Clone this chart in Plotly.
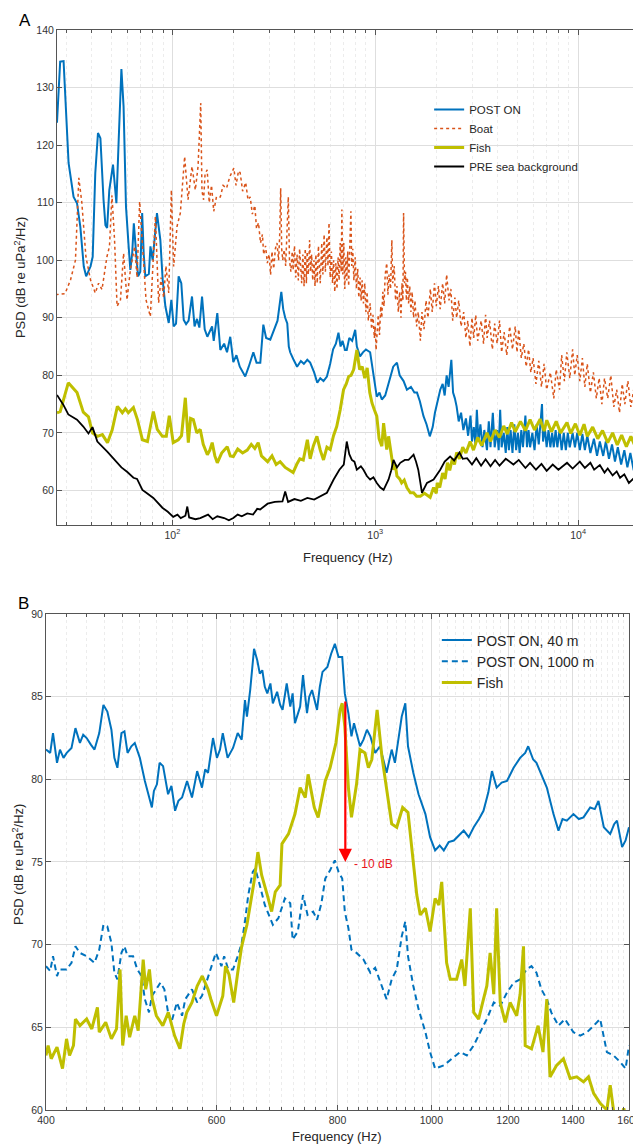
import numpy as np
import plotly.graph_objects as go

# ---------------- panel A (log frequency axis) ----------------
post_on_f = [27, 28, 29.1, 29.6, 30.8, 32.6, 33.9, 35.2, 36.6, 37.6, 39.5, 40.5, 41.7, 43.0, 44.2, 45.8, 46.8, 47.7,
             48.9, 51.0, 51.9, 53.0, 54.4, 56.1, 57.5, 59.1, 60.9, 62.1, 63.4, 64.6, 66.2, 67.8, 69.5, 71.0, 72.3,
             73.6, 76.6, 78.0, 80.0, 84.0, 87.3, 89.6, 92.4, 96.0, 98.9, 101.5, 104.3, 107.4, 110.7, 113.8, 116.9,
             120.3, 125.0, 128.7, 132.3, 135.9, 140.1, 144.4, 148.8, 157, 160, 166.6, 172.4, 180, 186, 193, 199.8,
             207, 215, 228.7, 238, 250.8, 260, 271.4, 280.9, 290, 304, 318, 330, 344.5, 352, 360, 368.6, 375, 381,
             395, 412, 430, 445, 462.6, 478, 500, 518.2, 536, 556, 578, 600, 620, 640, 659, 675, 690, 710, 724, 745,
             770, 797, 812, 842, 870, 900, 944, 975, 1000, 1018, 1050, 1078, 1120, 1170, 1227, 1280, 1320, 1380,
             1433, 1500, 1560, 1607, 1660, 1730, 1790, 1858, 1920, 1970, 2021, 2092, 2150, 2200, 2250, 2300, 2373,
             2420, 2470, 2519, 2580, 2650, 2720, 2800, 2870, 2950, 3000, 3062, 3120, 3170, 3230, 3300, 3380, 3450,
             3556, 3630, 3700, 3800, 3880, 3990, 4060, 4130, 4200, 4300, 4400, 4478, 4560, 4650, 4750, 4850, 4950,
             5050, 5150, 5250, 5350, 5500, 5600, 5700, 5800, 5950, 6100, 6250, 6400, 6550, 6640, 6720, 6850, 7000,
             7150, 7300, 7450, 7590, 7750, 7900, 8100, 8300, 8500, 8700, 8900, 9100, 9400, 9650, 9900, 10200, 10500,
             10800, 11100, 11500, 11970, 12400, 12800, 13300, 13700, 14200, 14700, 15200, 15700, 16300, 16900,
             17500, 18100, 18800, 19400, 20200]
post_on_db = [123.9, 134.5, 134.6, 129.6, 116.9, 111.0, 109.9, 105.8, 98.9, 97.2, 98.9, 100.6, 115.1, 122.1, 121.2,
              110.5, 106.1, 105.6, 112.2, 116.6, 114.0, 109.9, 120.9, 133.2, 126.7, 109.3, 102.4, 98.3, 101.2, 106.4,
              101.5, 97.2, 98.0, 108.2, 101.0, 97.2, 97.6, 102.4, 100.0, 108.2, 103.5, 96.6, 92.0, 89.1, 93.1, 88.5,
              89.0, 97.2, 96.0, 89.6, 88.9, 89.5, 93.7, 88.5, 89.8, 88.3, 93.7, 88.0, 86.7, 88.5, 86.0, 90.8, 84.4,
              85.5, 84.0, 86.7, 82.3, 83.5, 81.5, 79.8, 81.5, 84.0, 82.2, 82.2, 88.8, 86.5, 86.2, 88.0, 89.5, 94.5,
              91.5, 90.0, 89.0, 85.0, 84.0, 82.8, 81.5, 82.5, 82.0, 82.7, 82.2, 80.5, 78.7, 79.5, 79.0, 79.8, 82.0,
              84.5, 85.5, 87.4, 85.0, 86.0, 84.4, 84.4, 86.5, 86.0, 87.9, 85.0, 83.3, 84.0, 84.5, 84.0, 80.5, 78.0,
              76.3, 77.0, 75.8, 76.5, 79.0, 81.5, 82.2, 80.0, 79.0, 77.5, 78.0, 77.0, 77.0, 75.5, 72.9, 71.5, 69.4,
              71.0, 73.5, 75.2, 77.5, 78.5, 76.5, 80.0, 78.0, 82.7, 77.0, 76.0, 74.6, 72.0, 73.5, 70.5, 72.5, 69.5,
              73.0, 68.5, 71.0, 68.0, 74.0, 68.5, 71.5, 67.5, 70.5, 67.0, 72.0, 67.5, 73.5, 67.5, 70.5, 67.0, 74.0,
              67.5, 70.0, 66.5, 71.0, 67.0, 70.5, 66.5, 71.5, 67.0, 70.0, 66.5, 70.5, 67.5, 73.0, 67.5, 70.5, 67.5,
              70.0, 67.0, 71.5, 68.0, 72.5, 75.0, 68.5, 71.0, 67.5, 70.5, 67.5, 70.0, 67.5, 70.5, 67.5, 70.5, 67.0,
              70.0, 67.0, 70.0, 67.5, 70.0, 67.5, 70.0, 67.0, 69.8, 67.0, 69.5, 66.5, 69.0, 66.0, 68.5, 66.0, 68.5,
              65.5, 68.0, 65.0, 67.5, 64.5, 67.0, 64.0, 66.5, 63.5, 65.5, 63.8]

boat_f = [26.6, 29.6, 31.5, 33.3, 34.6, 35.8, 37.5, 39.5, 41.7, 43.3, 45, 47.6, 49, 50.4, 51.9, 53.4, 55.5, 57.5, 59.8,
          62.1, 65.2, 67, 69, 71.4, 74.2, 77.9, 80, 82.5, 85.6, 88, 90.6, 93, 96, 98.9, 101.5, 105.5, 109.5, 115,
          119.5, 125, 129.8, 133.9, 138, 140, 142.6, 145, 148.5, 152, 156, 160, 165, 172.4, 178, 185, 192, 201,
          206, 212, 216, 222, 230, 236, 242, 248, 255, 260, 266, 272, 278, 282, 288, 294, 300, 305, 310, 316, 322,
          328, 334, 338, 342, 346, 350, 356, 362, 367, 373, 378, 384, 390, 394, 400, 406, 412, 418, 424, 428, 434,
          440, 446, 452, 458, 462, 468, 475, 480, 486, 492, 499, 505, 510, 518, 525, 536, 545, 552, 560, 568, 578,
          585, 592, 600, 608, 616, 624, 632, 640, 648, 656, 664, 672, 680, 685, 692, 700, 708, 716, 724, 732, 740,
          750, 759, 766, 775, 785, 797, 808, 820, 830, 842, 852, 862, 875, 888, 900, 912, 925, 944, 960, 975, 990,
          1000, 1010, 1020, 1035, 1050, 1065, 1078, 1090, 1105, 1120, 1140, 1155, 1170, 1190, 1208, 1220, 1240,
          1260, 1280, 1300, 1320, 1340, 1355, 1370, 1380, 1395, 1410, 1425, 1440, 1460, 1480, 1500, 1520, 1546,
          1570, 1600, 1630, 1670, 1700, 1740, 1780, 1820, 1870, 1910, 1960, 2000, 2050, 2090, 2150, 2200, 2250,
          2310, 2360, 2410, 2470, 2520, 2580, 2650, 2730, 2800, 2860, 2930, 3000, 3060, 3130, 3200, 3330, 3420,
          3500, 3560, 3660, 3780, 3880, 3990, 4100, 4200, 4320, 4450, 4600, 4750, 4900, 5000, 5100, 5250, 5400,
          5550, 5700, 5850, 6000, 6200, 6400, 6600, 6800, 7000, 7300, 7590, 7800, 8100, 8300, 8560, 8800, 9100,
          9400, 9630, 9900, 10200, 10500, 10800, 11100, 11500, 11900, 12300, 12700, 13100, 13500, 14000, 14500,
          15000, 15500, 16000, 16500, 17000, 17600, 18200, 18800, 19400, 20200]
boat_db = [94.0, 94.2, 96.6, 100.0, 114.3, 110.0, 100.6, 96.6, 94.3, 96.0, 94.9, 100.6, 102.4, 111.3, 103.5, 92.0,
           93.1, 101.2, 93.1, 98.3, 102.4, 97.0, 110.2, 102.4, 93.1, 90.2, 98.0, 107.6, 92.6, 97.0, 93.5, 99.0,
           94.3, 112.2, 98.9, 105.9, 108.2, 118.0, 110.5, 116.3, 112.2, 116.3, 127.3, 112.0, 110.5, 115.0, 115.7,
           110.0, 113.0, 108.5, 111.0, 111.0, 113.0, 112.5, 114.5, 116.0, 113.0, 115.5, 115.2, 112.0, 113.5, 110.5,
           111.0, 108.0, 109.5, 105.5, 106.5, 103.0, 104.5, 101.0, 102.5, 99.5, 101.0, 97.5, 101.5, 98.5, 102.0,
           103.0, 100.0, 104.0, 112.5, 102.0, 100.0, 101.8, 99.0, 104.0, 111.0, 100.0, 98.0, 101.5, 98.3, 102.5,
           97.0, 101.0, 96.5, 102.0, 99.5, 96.0, 101.0, 95.5, 102.0, 96.0, 101.5, 97.5, 103.5, 98.0, 101.0, 96.5,
           100.0, 95.5, 101.0, 96.0, 102.5, 96.0, 103.0, 97.5, 104.5, 98.0, 104.0, 99.0, 106.5, 97.0, 101.5, 96.0,
           100.0, 94.5, 99.5, 95.0, 100.5, 96.5, 103.0, 98.0, 108.8, 97.5, 103.0, 95.0, 100.5, 96.5, 101.5, 95.5,
           103.0, 108.5, 99.0, 102.0, 96.5, 100.5, 95.0, 98.5, 93.5, 97.0, 93.0, 96.5, 92.5, 96.0, 91.0, 94.5, 89.5,
           92.5, 88.0, 90.5, 86.5, 88.5, 84.4, 88.0, 90.5, 87.0, 92.0, 90.0, 94.5, 92.0, 97.5, 99.5, 94.0, 97.5,
           95.0, 103.5, 96.0, 99.0, 93.0, 95.5, 91.0, 94.5, 90.0, 96.0, 93.0, 108.2, 96.0, 98.0, 93.0, 97.0, 92.5,
           95.5, 91.0, 94.5, 90.0, 93.0, 88.5, 91.0, 86.0, 91.0, 88.0, 93.0, 90.0, 95.0, 91.0, 96.0, 92.0, 95.5,
           91.5, 96.0, 92.5, 97.5, 93.0, 95.0, 89.5, 93.5, 90.0, 93.0, 88.5, 91.0, 86.5, 89.5, 85.0, 90.0, 86.5,
           90.5, 86.0, 89.5, 85.5, 90.5, 86.5, 89.5, 84.5, 89.0, 85.5, 89.5, 84.0, 87.5, 83.5, 88.5, 84.5, 88.5,
           84.0, 88.0, 83.0, 85.5, 81.5, 84.5, 80.5, 83.0, 78.5, 82.5, 78.0, 82.0, 77.5, 80.5, 76.0, 81.0, 77.5,
           83.5, 79.0, 84.0, 79.5, 84.5, 80.0, 83.5, 79.0, 83.0, 78.0, 82.0, 77.0, 80.5, 76.0, 79.5, 75.0, 79.5,
           76.0, 80.0, 74.5, 77.5, 73.5, 78.5, 75.0, 79.0, 74.5, 77.5, 72.5, 75.0]

fish_f = [27, 28, 30.7, 33.9, 36.4, 38.6, 40.4, 42.7, 45.2, 47.9, 50.5, 53.6, 56.7, 58.7, 60.7, 64.3, 67.3, 71.2,
          75.4, 80.6, 84.3, 89.3, 93.4, 96.6, 101, 107, 111, 115.9, 119.9, 123, 126.9, 132, 137.3, 142, 148.8,
          153, 157.2, 162, 166.6, 175, 186.5, 193, 199.8, 210, 222, 234, 245, 255, 265, 275, 295, 310, 325, 340,
          360, 380, 394, 410, 425, 442, 463, 478, 495, 516, 536, 556, 578, 600, 623, 646, 672, 698, 720, 740, 760,
          783, 812, 838, 863, 888, 913, 940, 964, 990, 1018, 1045, 1078, 1100, 1120, 1140, 1164, 1200, 1231, 1255,
          1280, 1320, 1350, 1390, 1433, 1490, 1546, 1600, 1670, 1750, 1866, 1940, 2000, 2021, 2080, 2150, 2210,
          2270, 2330, 2400, 2460, 2519, 2600, 2700, 2800, 2937, 3050, 3200, 3350, 3556, 3700, 3900, 4100, 4300,
          4478, 4700, 4900, 5200, 5500, 5800, 6100, 6500, 6800, 7010, 7400, 7800, 8200, 8820, 9200, 9700, 10200,
          10700, 11100, 11800, 12500, 13200, 14000, 14800, 15600, 16400, 17300, 18200, 19200, 20200]
fish_db = [73.5, 73.7, 78.7, 77.0, 73.6, 72.8, 70.0, 69.4, 69.7, 68.3, 70.5, 74.6, 73.5, 74.2, 73.5, 74.4, 72.3,
           68.8, 68.5, 73.7, 70.6, 69.4, 69.4, 73.0, 68.3, 68.8, 69.5, 76.1, 68.3, 72.5, 72.3, 70.0, 70.6, 68.0,
           66.2, 67.0, 68.3, 66.0, 64.8, 66.5, 67.6, 66.0, 65.9, 67.2, 66.5, 67.0, 68.0, 67.3, 68.3, 66.0, 65.0,
           66.0, 64.5, 65.0, 64.0, 63.5, 63.1, 64.5, 65.5, 65.3, 68.8, 65.5, 67.7, 69.4, 67.0, 65.3, 67.5, 67.1,
           69.5, 71.1, 74.0, 77.5, 78.5, 79.8, 80.0, 81.0, 84.4, 81.0, 81.5, 79.5, 81.3, 77.0, 75.2, 74.0, 72.9,
           69.0, 67.7, 71.7, 69.0, 67.1, 69.4, 66.0, 63.6, 64.5, 62.5, 62.0, 61.3, 61.8, 60.5, 59.6, 59.6, 59.0,
           59.0, 59.5, 58.8, 60.5, 59.5, 61.3, 60.5, 63.0, 62.0, 64.8, 63.5, 65.5, 64.5, 66.6, 65.5, 67.5, 66.5,
           68.5, 67.0, 69.2, 67.8, 70.0, 68.5, 70.5, 69.2, 71.2, 69.8, 71.8, 70.2, 72.0, 70.4, 72.3, 70.5, 72.4,
           70.3, 72.2, 70.2, 72.0, 70.0, 71.8, 69.9, 71.6, 69.6, 71.5, 69.4, 71.0, 69.0, 70.4, 68.3, 70.0, 67.9,
           69.6, 67.6, 69.4, 67.5, 69.0]

pre_f = [27, 29, 30.7, 33.9, 36.4, 38.6, 40.4, 42.7, 47.9, 51.9, 56.1, 60, 64.3, 67, 71.2, 75, 80.6, 89.3, 95, 101,
         106, 110, 116, 118.5, 121, 130, 137.3, 150, 158, 166.6, 180, 190, 199.8, 210, 220, 234, 250, 262, 271,
         295, 320, 349, 360, 372, 400, 430, 463, 500, 536, 578, 624, 666, 700, 724, 745, 767, 790, 812, 850, 875,
         910, 944, 980, 1018, 1060, 1100, 1164, 1200, 1231, 1280, 1329, 1400, 1460, 1546, 1590, 1630, 1670, 1700,
         1800, 1940, 2092, 2200, 2340, 2450, 2600, 2700, 2838, 3000, 3150, 3326, 3500, 3700, 3900, 4100, 4400,
         4800, 5100, 5500, 5800, 6200, 6600, 7000, 7500, 8000, 8820, 9400, 10200, 10800, 11500, 12000, 12800,
         13500, 14000, 14800, 15500, 16100, 16900, 17800, 18800, 19500, 20200]
pre_db = [76.6, 74.9, 73.2, 72.3, 71.1, 69.9, 71.0, 68.5, 66.7, 65.3, 64.0, 63.2, 62.2, 62.0, 60.1, 59.5, 58.7, 57.0,
          56.3, 55.4, 55.8, 55.2, 55.6, 57.2, 55.3, 55.0, 55.2, 55.8, 55.0, 55.5, 55.2, 54.8, 55.2, 55.8, 55.5,
          56.0, 55.8, 56.8, 56.7, 57.7, 58.0, 58.1, 59.8, 58.0, 58.5, 58.2, 58.7, 58.4, 59.0, 59.6, 61.9, 63.6,
          64.5, 68.5, 66.3, 65.3, 65.0, 63.6, 64.2, 63.6, 62.5, 61.9, 62.3, 61.3, 60.5, 60.1, 61.9, 63.5, 65.3,
          64.0, 64.8, 65.3, 65.3, 66.2, 65.0, 63.6, 61.3, 59.6, 61.3, 61.9, 63.6, 65.0, 65.9, 65.2, 66.6, 65.5,
          65.6, 64.5, 65.6, 64.3, 65.4, 64.2, 65.3, 64.3, 65.5, 64.5, 65.3, 63.9, 64.8, 63.6, 64.6, 63.4, 64.5,
          63.6, 64.8, 63.8, 65.0, 63.9, 64.8, 63.6, 64.4, 63.1, 63.8, 62.6, 63.3, 62.2, 62.8, 61.3, 62.1, 60.8,
          61.4]

# ---------------- panel B (400-1600 Hz) ----------------
near_f = [400, 404, 406.7, 410.6, 413.5, 417, 420.2, 425, 429, 433.6, 437, 440.6, 445, 448.9, 454, 458.5, 462.8,
          467.3, 470.6, 474, 478.6, 482, 485.6, 490, 494, 500, 506, 510, 514.5, 517, 520.7, 524, 528.4, 534.7,
          539, 543.7, 548, 552.8, 559.4, 566, 573, 579.6, 584, 588, 595, 600.6, 605, 609, 616, 624, 631, 637, 642,
          645, 650, 656, 661, 665, 669, 673, 677, 682, 686, 693, 698, 702, 709, 715, 719, 723, 732, 737, 744, 748,
          753, 762, 767, 772, 781, 788, 795, 802, 809, 814, 821, 827, 832, 837, 844, 851, 858, 865, 875, 885, 892,
          899, 910, 917, 924, 932, 940, 946, 958, 970, 986, 997, 1009, 1020, 1030, 1042, 1055, 1068, 1080, 1093,
          1106, 1120, 1132, 1145, 1155, 1168, 1182, 1197, 1216, 1235, 1250, 1259, 1274, 1284, 1295, 1316, 1337,
          1353, 1366, 1380, 1402, 1420, 1436, 1459, 1475, 1488, 1507, 1530, 1545, 1555, 1574, 1587, 1600]
near_db = [81.8, 81.6, 82.8, 81.0, 81.8, 81.3, 81.6, 81.9, 83.1, 82.2, 82.7, 82.5, 82.1, 81.8, 82.8, 84.5, 84.1,
           83.0, 81.3, 80.7, 82.8, 82.9, 81.6, 82.0, 82.2, 81.3, 79.9, 79.2, 78.3, 79.3, 79.7, 81.0, 80.8, 79.1,
           79.6, 78.1, 78.7, 78.9, 79.9, 78.9, 80.5, 79.5, 80.6, 80.4, 82.5, 81.3, 81.8, 82.8, 81.3, 81.9, 82.8,
           82.4, 84.8, 83.8, 85.4, 87.9, 87.2, 86.4, 86.6, 85.6, 85.2, 85.8, 84.6, 85.3, 84.5, 84.2, 85.8, 84.4,
           85.2, 83.4, 84.4, 86.3, 84.0, 85.0, 85.4, 84.2, 85.6, 86.5, 86.8, 87.6, 88.2, 87.4, 87.4, 85.2, 84.0,
           82.6, 83.4, 82.8, 82.0, 82.4, 83.0, 82.6, 81.6, 82.0, 81.2, 80.4, 81.8, 81.0, 82.3, 83.8, 84.6, 82.0,
           80.4, 79.1, 77.9, 76.5, 75.7, 76.0, 75.7, 76.2, 76.3, 76.6, 76.9, 76.5, 77.1, 77.6, 78.1, 79.2, 80.5,
           79.5, 79.8, 79.9, 80.7, 81.3, 81.6, 82.0, 81.2, 81.0, 80.5, 79.5, 77.9, 76.9, 77.6, 77.5, 77.9, 77.6,
           77.7, 78.3, 78.2, 78.7, 77.1, 76.7, 77.3, 77.5, 75.9, 76.3, 77.1]

far_f = [400, 404, 406.7, 410.6, 413, 420, 425, 429, 433.6, 440.6, 448.9, 454, 458.5, 462.8, 467.3, 470.6, 474,
         478.6, 482, 485.6, 492, 497, 502, 506, 511, 514.5, 520, 525, 530, 534.7, 539, 546, 552.8, 557, 566, 573,
         579.6, 584, 591, 599, 607, 611, 617, 624, 631, 637, 642, 647, 654, 658, 665, 673, 686, 695, 706, 715,
         719, 728, 737, 745, 755, 762, 770, 777, 786, 795, 802, 809, 814, 821, 827, 837, 851, 865, 875, 889, 899,
         910, 921, 932, 940, 946, 958, 970, 986, 997, 1009, 1030, 1051, 1071, 1088, 1106, 1123, 1141, 1160, 1178,
         1197, 1216, 1235, 1254, 1269, 1284, 1299, 1316, 1330, 1353, 1374, 1402, 1425, 1448, 1471, 1494, 1518,
         1542, 1567, 1587, 1600]
far_db = [68.7, 68.4, 69.3, 68.1, 68.5, 68.5, 68.9, 69.9, 69.5, 69.3, 68.9, 69.7, 71.2, 71.1, 70.1, 68.3, 67.9,
          69.5, 69.9, 69.3, 69.3, 68.5, 68.1, 66.7, 65.9, 66.9, 67.3, 67.7, 67.3, 65.9, 65.3, 66.5, 65.7, 66.7,
          67.3, 66.5, 66.9, 67.5, 68.3, 69.5, 68.7, 69.3, 68.5, 68.5, 69.3, 70.1, 71.4, 73.0, 74.4, 74.6, 73.6,
          72.4, 71.2, 71.6, 72.8, 72.5, 70.3, 70.8, 73.0, 71.8, 72.0, 71.5, 72.5, 74.0, 74.5, 75.1, 74.4, 74.0,
          72.0, 71.0, 69.7, 69.5, 69.1, 68.3, 68.6, 67.5, 66.7, 67.9, 68.5, 70.5, 71.4, 69.3, 67.5, 66.1, 64.7,
          63.5, 62.5, 62.7, 63.1, 63.5, 63.3, 63.9, 64.7, 65.5, 66.5, 66.3, 67.1, 67.7, 67.9, 68.5, 68.7, 68.3,
          67.3, 66.7, 65.9, 65.1, 65.5, 64.7, 64.5, 64.7, 65.1, 65.5, 63.5, 63.3, 62.9, 62.5, 63.9]

fishb_f = [400, 402, 405, 410.6, 416, 420, 423, 427, 429, 433.6, 440.6, 446, 452, 454, 461, 467.3, 473, 477, 480,
           484, 488, 494, 498, 502, 504, 507, 511.5, 515, 520, 528, 535, 543, 550, 555, 559, 566, 573, 580, 588,
           592, 600, 609, 613, 618, 625, 631, 637, 645, 650, 656, 662, 668, 677, 684, 690, 698, 701, 712, 723, 732,
           741, 746, 757, 764, 777, 786, 797, 805, 809, 814, 821, 827, 837, 844, 854, 861, 868, 879, 889, 899, 910,
           921, 934, 946, 958, 966, 974, 986, 997, 1009, 1018, 1025, 1037, 1046, 1062, 1075, 1083, 1097, 1106, 1119,
           1132, 1141, 1150, 1160, 1168, 1178, 1192, 1206, 1225, 1235, 1245, 1250, 1269, 1289, 1304, 1316, 1326,
           1347, 1369, 1391, 1413, 1436, 1453, 1471, 1494, 1518, 1530, 1542, 1555, 1572, 1580, 1590, 1603]
fishb_db = [63.3, 63.9, 63.1, 63.8, 62.5, 64.3, 63.3, 63.9, 65.5, 65.1, 65.5, 64.9, 66.2, 64.7, 65.3, 64.3, 64.9,
            68.5, 63.9, 65.7, 64.4, 65.7, 64.8, 67.5, 69.1, 67.3, 68.5, 66.7, 65.7, 65.1, 65.9, 64.5, 63.7, 65.2,
            65.9, 66.5, 67.5, 68.1, 67.3, 66.7, 65.7, 66.9, 68.7, 68.2, 66.5, 68.3, 69.9, 71.2, 72.4, 73.8, 75.6,
            74.2, 73.0, 72.0, 73.2, 73.6, 76.1, 76.7, 77.9, 79.5, 78.9, 80.3, 78.3, 77.7, 79.9, 80.7, 82.2, 84.2,
            84.6, 83.2, 79.5, 77.7, 79.7, 81.8, 81.6, 80.7, 81.2, 84.2, 81.4, 79.5, 77.3, 77.1, 78.3, 78.0, 75.1,
            73.0, 71.8, 72.2, 70.8, 72.8, 72.4, 73.8, 68.9, 67.9, 67.9, 69.1, 67.5, 72.2, 65.9, 65.5, 66.7, 67.5,
            69.5, 67.0, 72.2, 66.5, 65.3, 66.5, 65.7, 67.0, 69.9, 63.9, 63.7, 65.1, 63.5, 66.7, 62.0, 62.7, 63.1,
            61.9, 62.0, 61.7, 62.0, 61.0, 60.4, 60.0, 61.5, 60.0, 59.5, 59.6, 60.1, 59.5, 59.5]

BLUE = "#0072BD"
ORANGE = "#D95319"
OLIVE = "#BFBF00"
FONT = "Liberation Sans, Arial, sans-serif"

fig = go.Figure()
fig.add_trace(go.Scatter(x=post_on_f, y=post_on_db, name="POST ON", mode="lines",
                         line=dict(color=BLUE, width=2), xaxis="x", yaxis="y", legend="legend"))
fig.add_trace(go.Scatter(x=boat_f, y=boat_db, name="Boat", mode="lines",
                         line=dict(color=ORANGE, width=1.5, dash="dot"), xaxis="x", yaxis="y", legend="legend"))
fig.add_trace(go.Scatter(x=fish_f, y=fish_db, name="Fish", mode="lines",
                         line=dict(color=OLIVE, width=3), xaxis="x", yaxis="y", legend="legend"))
fig.add_trace(go.Scatter(x=pre_f, y=pre_db, name="PRE sea background", mode="lines",
                         line=dict(color="black", width=1.8), xaxis="x", yaxis="y", legend="legend"))

fig.add_trace(go.Scatter(x=near_f, y=near_db, name="POST ON, 40 m", mode="lines",
                         line=dict(color=BLUE, width=2), xaxis="x2", yaxis="y2", legend="legend2"))
fig.add_trace(go.Scatter(x=far_f, y=far_db, name="POST ON, 1000 m", mode="lines",
                         line=dict(color=BLUE, width=2, dash="6px,4px"), xaxis="x2", yaxis="y2",
                         legend="legend2"))
fig.add_trace(go.Scatter(x=fishb_f, y=fishb_db, name="Fish", mode="lines",
                         line=dict(color=OLIVE, width=3), xaxis="x2", yaxis="y2", legend="legend2"))

axis_style = dict(showline=True, linecolor="#555", linewidth=1, mirror="allticks", ticks="inside",
                  ticklen=5, tickcolor="#555", showgrid=True, gridcolor="#dedede", zeroline=False,
                  automargin=False, tickfont=dict(family=FONT, size=10.5, color="#333"))

minor_a = [m * d for d in (10, 100, 1000, 10000) for m in range(2, 10) if 27 <= m * d <= 20200]
minor_b = [f for f in range(420, 1600, 20) if f % 200 != 0]

# the page body adds an 8 px offset, so the paper positions below are shifted to compensate
fig.update_layout(
    width=641, height=1145,
    margin=dict(l=0, r=0, t=0, b=0, autoexpand=False),
    paper_bgcolor="white", plot_bgcolor="white",
    font=dict(family=FONT, color="#262626"),
    xaxis=dict(axis_style, type="log", range=[np.log10(27), np.log10(20200)], domain=[0.0764, 0.986],
               anchor="y", tickvals=[100, 1000, 10000],
               ticktext=["10<sup>2</sup>", "10<sup>3</sup>", "10<sup>4</sup>"],
               minor=dict(tickvals=minor_a, ticks="inside", ticklen=3, tickcolor="#555", showgrid=True,
                          gridcolor="#ececec", griddash="dot")),
    yaxis=dict(axis_style, range=[54, 140], domain=[0.5485, 0.9808], anchor="x",
               tickvals=[60, 70, 80, 90, 100, 110, 120, 130, 140]),
    xaxis2=dict(axis_style, type="log", range=[np.log10(400), np.log10(1600)], domain=[0.0593, 0.9688],
                anchor="y2", tickvals=[400, 600, 800, 1000, 1200, 1400, 1600],
                minor=dict(tickvals=minor_b, ticks="inside", ticklen=3, tickcolor="#555", showgrid=True,
                           gridcolor="#ececec", griddash="dot")),
    yaxis2=dict(axis_style, range=[60, 90], domain=[0.0376, 0.4707], anchor="x2",
                tickvals=[60, 65, 70, 75, 80, 85, 90]),
    legend=dict(x=0.657, y=0.924, xanchor="left", yanchor="top", bgcolor="rgba(255,255,255,0)",
                font=dict(family=FONT, size=11.5, color="#262626"), tracegroupgap=0),
    legend2=dict(x=0.669, y=0.4616, xanchor="left", yanchor="top", bgcolor="rgba(255,255,255,0)",
                 font=dict(family=FONT, size=14, color="#262626"), tracegroupgap=0),
    showlegend=True,
)

ann_font = dict(family=FONT, size=13, color="#262626")
fig.add_annotation(text="A", x=0.014, y=0.9895, xref="paper", yref="paper", showarrow=False,
                   xanchor="left", yanchor="middle", font=dict(family=FONT, size=17, color="black"))
fig.add_annotation(text="B", x=0.0125, y=0.4803, xref="paper", yref="paper", showarrow=False,
                   xanchor="left", yanchor="middle", font=dict(family=FONT, size=17, color="black"))
fig.add_annotation(text="Frequency (Hz)", x=0.530, y=0.5205, xref="paper", yref="paper", showarrow=False,
                   xanchor="center", yanchor="middle", font=ann_font)
fig.add_annotation(text="Frequency (Hz)", x=0.513, y=0.014, xref="paper", yref="paper", showarrow=False,
                   xanchor="center", yanchor="middle", font=ann_font)
fig.add_annotation(text="PSD (dB re uPa<sup>2</sup>/Hz)", x=0.0187, y=0.765, xref="paper", yref="paper",
                   showarrow=False, textangle=-90, xanchor="center", yanchor="middle", font=ann_font)
fig.add_annotation(text="PSD (dB re uPa<sup>2</sup>/Hz)", x=0.0156, y=0.2524, xref="paper", yref="paper",
                   showarrow=False, textangle=-90, xanchor="center", yanchor="middle", font=ann_font)

# -10 dB arrow in panel B
fig.add_annotation(x=np.log10(815), y=75.0, ax=np.log10(815), ay=84.8, xref="x2", yref="y2",
                   axref="x2", ayref="y2", showarrow=True, arrowhead=2, arrowsize=1.2, arrowwidth=2.2,
                   arrowcolor="#ff0000", text="")
fig.add_annotation(text="- 10 dB", x=np.log10(828), y=74.9, xref="x2", yref="y2", showarrow=False,
                   xanchor="left", yanchor="middle", font=dict(family=FONT, size=12, color="#e8141a"))

fig.write_html("out.html")
